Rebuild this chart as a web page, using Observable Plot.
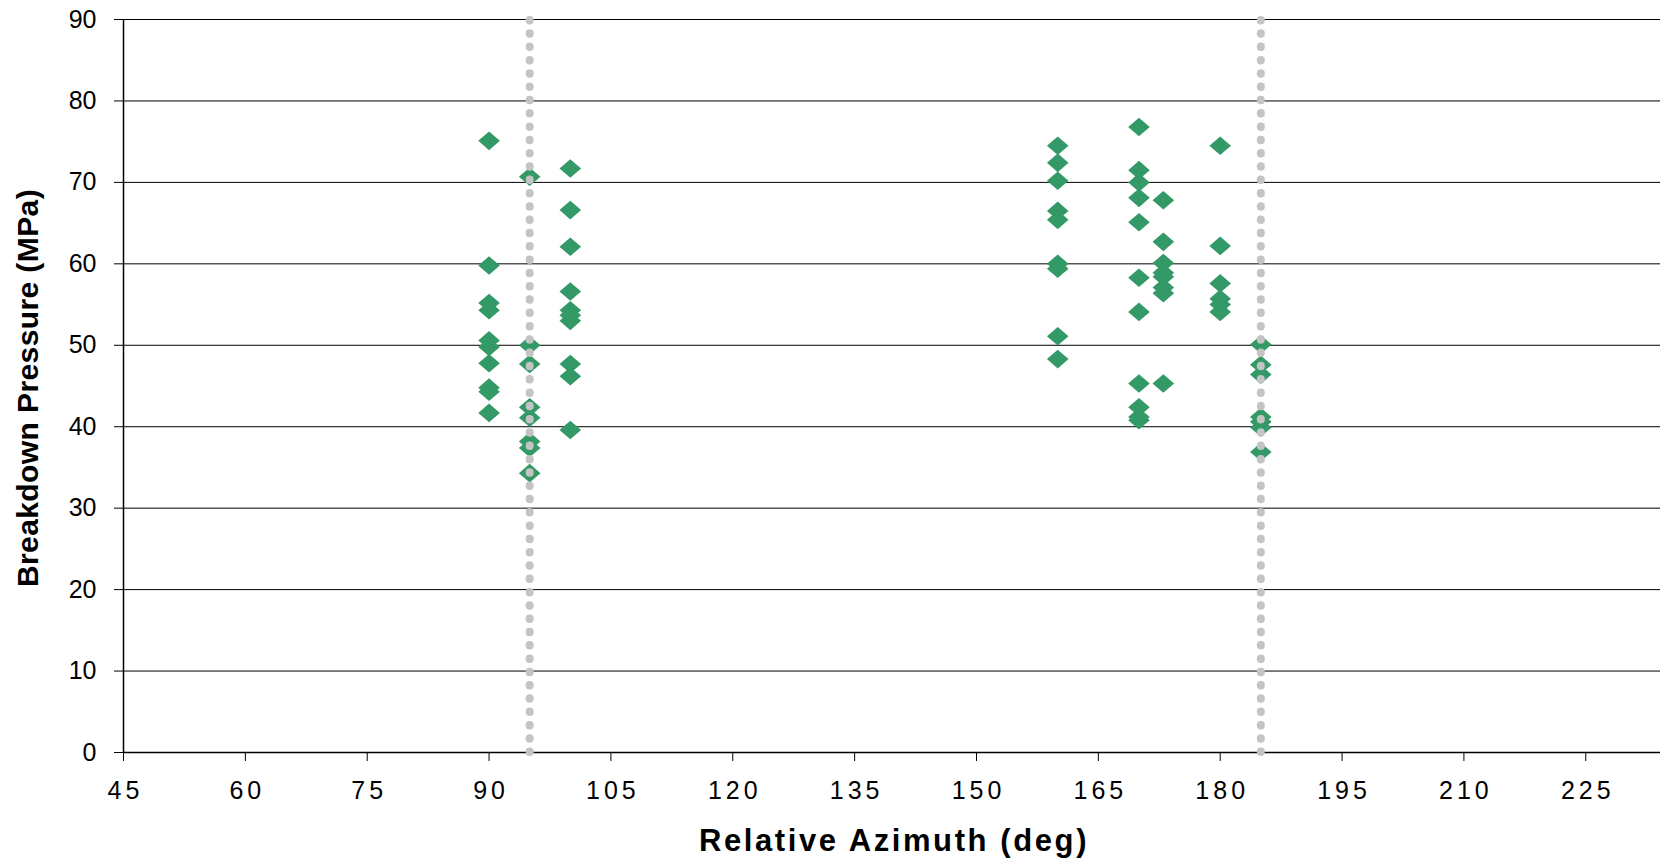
<!DOCTYPE html>
<html>
<head>
<meta charset="utf-8">
<script src="https://cdn.jsdelivr.net/npm/d3@7"></script>
<script src="https://cdn.jsdelivr.net/npm/@observablehq/plot@0.6"></script>
<style>
  html, body { margin: 0; padding: 0; background: #fff; }
  svg { display: block; }
</style>
</head>
<body>
<div id="chart"></div>
<script>
// Breakdown pressure (MPa) by relative azimuth (deg)
const p90  = [75.1, 59.8, 55.2, 54.3, 50.6, 49.8, 47.8, 44.8, 44.3, 41.7];
const p95  = [70.7, 50.0, 47.7, 42.4, 41.1, 38.2, 37.4, 34.3];
const p100 = [71.7, 66.6, 62.1, 56.6, 54.3, 53.7, 53.0, 47.7, 46.2, 39.6];
const p160 = [74.5, 72.4, 70.2, 66.5, 65.4, 60.0, 59.4, 51.1, 48.3];
const p170 = [76.8, 71.5, 70.0, 68.1, 65.1, 58.3, 54.1, 45.3, 42.4, 41.2, 40.8];
const p173 = [67.8, 62.7, 60.1, 58.9, 58.4, 57.1, 56.4, 45.3];
const p180 = [74.5, 62.2, 57.6, 55.7, 55.0, 54.1];
const p185 = [50.1, 47.6, 46.4, 41.2, 40.6, 39.9, 36.9];

const azimuths = [90, 95, 100, 160, 170, 173, 180, 185];
const pressureSets = [p90, p95, p100, p160, p170, p173, p180, p185];

const dividers = [95, 185];
const xTicks = [45, 60, 75, 90, 105, 120, 135, 150, 165, 180, 195, 210, 225];
const yTicks = [0, 10, 20, 30, 40, 50, 60, 70, 80, 90];
const xTitle = "Relative Azimuth (deg)";
const yTitle = "Breakdown Pressure (MPa)";

const data = azimuths.flatMap((az, i) => pressureSets[i].map(p => ({az, p})));

// Excel-style diamond marker (slightly wider than tall)
const diamond = {
  draw(ctx) {
    const hw = 10.8, hh = 9.3;
    ctx.moveTo(0, -hh);
    ctx.lineTo(hw, 0);
    ctx.lineTo(0, hh);
    ctx.lineTo(-hw, 0);
    ctx.closePath();
  }
};

const chart = Plot.plot({
  width: 1660,
  height: 861,
  marginLeft: 123,
  marginRight: 0,
  marginTop: 19,
  marginBottom: 109,
  x: {domain: [45, 234.2]},
  y: {domain: [0, 90]},
  style: {fontFamily: "'Liberation Sans', Arial, sans-serif", color: "#000", background: "#fff"},
  marks: [
    Plot.ruleY(yTicks, {stroke: "#000", strokeWidth: 1}),
    Plot.ruleX([45], {stroke: "#000", strokeWidth: 1.5}),
    Plot.ruleY([0], {stroke: "#000", strokeWidth: 1.5}),
    Plot.axisX({ticks: xTicks, tickSize: 9, tickPadding: 20, fontSize: 25, label: null, stroke: "#000", fill: "#000"}),
    Plot.axisY({ticks: yTicks, tickSize: 9, tickPadding: 18, fontSize: 25, label: null, stroke: "#000", fill: "#000"}),
    Plot.dot(data, {x: "az", y: "p", symbol: diamond, fill: "#339966", stroke: "none"}),
    Plot.ruleX(dividers, {y1: 0, y2: 90, stroke: "#c4c4c4", strokeWidth: 8, strokeDasharray: "0.5 12.8", strokeLinecap: "round"})
  ]
});

const svg = d3.select(chart);
svg.selectAll('g[aria-label="x-axis tick label"] text')
  .style("letter-spacing", "4px")
  .attr("dx", 2);

svg.append("text")
  .attr("x", 894)
  .attr("y", 851)
  .attr("text-anchor", "middle")
  .style("font-family", "'Liberation Sans', Arial, sans-serif")
  .style("font-weight", "bold")
  .style("font-size", "31px")
  .style("letter-spacing", "2.6px")
  .attr("fill", "#000")
  .text(xTitle);

svg.append("text")
  .attr("transform", "translate(38,388) rotate(-90)")
  .attr("text-anchor", "middle")
  .style("font-family", "'Liberation Sans', Arial, sans-serif")
  .style("font-weight", "bold")
  .style("font-size", "30px")
  .style("letter-spacing", "0.4px")
  .attr("fill", "#000")
  .text(yTitle);

document.getElementById("chart").appendChild(chart);
</script>
</body>
</html>
